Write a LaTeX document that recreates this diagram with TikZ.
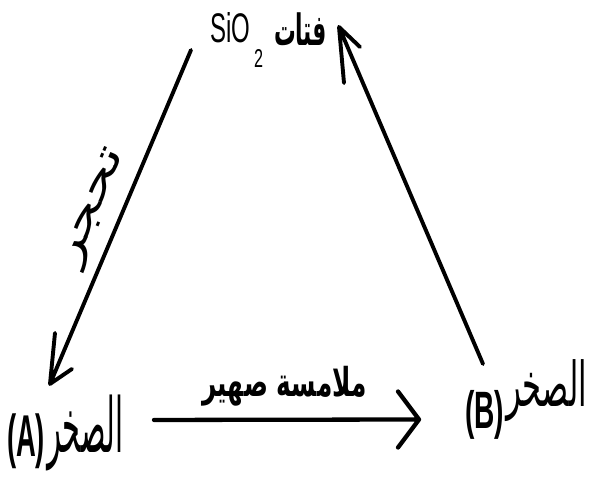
\documentclass[tikz,border=0pt]{standalone}
\usepackage{fontspec}
\usepackage{graphicx}
\usetikzlibrary{calc}
\setmainfont{Liberation Sans}
\newfontfamily\lat{Liberation Sans}
\newfontfamily\ar[Script=Arabic]{DejaVu Sans}
\TeXXeTstate=1
\begin{document}
\begin{tikzpicture}[x=1pt,y=-1pt,
  ln/.style={line width=3.9pt, line cap=round, line join=round},
  lnb/.style={line width=4.3pt, line cap=round, line join=round},
  txt/.style={inner sep=0pt, outer sep=0pt}]
\fill[white] (0,0) rectangle (591,481);
\useasboundingbox (0,0) rectangle (591,481);

% top: SiO2 fragments
\node[txt, anchor=base west] (top) at (210,43)
  {\resizebox{40pt}{30pt}{\lat SiO}\kern4pt\raisebox{-25pt}{\resizebox{9pt}{18pt}{\lat 2}}\kern11pt\raisebox{-3pt}{\resizebox*{53pt}{33pt}{\ar\bfseries\beginR فتات\endR}}};

% rock A
\node[txt, anchor=base west] (A) at (7,469)
  {\raisebox{\depth}{\resizebox*{38pt}{55pt}{\lat\bfseries(A)}}\kern2pt\raisebox{\dimexpr\depth-2pt\relax}{\resizebox*{76pt}{76pt}{\ar\beginR الصخر\endR}}};

% rock B
\node[txt, anchor=base west] (B) at (465,439)
  {\raisebox{\depth}{\resizebox*{39pt}{49pt}{\lat\bfseries(B)}}\kern2pt\raisebox{\dimexpr\depth+17pt\relax}{\resizebox*{81pt}{62pt}{\ar\beginR الصخر\endR}}};

% connector endpoints relative to nodes
\coordinate (s1) at ($(top.south west)+(-19,-18)$);
\coordinate (e1) at ($(A.north west)+(43,-11)$);
\coordinate (s2) at ($(B.north west)+(18,4)$);
\coordinate (e2) at ($(top.north east)+(12,14)$);
\coordinate (s3) at ($(A.east)+(31,-13)$);
\coordinate (e3) at ($(B.west)+(-46,20)$);

% top -> A
\draw[ln] (s1) -- (e1) (e1) -- ++(5,-51) (e1) -- ++(22,-15);
\node[txt, rotate=67] (lab1) at ($(s1)!0.5!(e1)+(-25.5,-8.5)$)
  {\resizebox*{125pt}{30pt}{\ar\beginR تحجر\endR}};

% B -> top
\draw[ln] (s2) -- (e2) (e2) -- ++(5,56) (e2) -- ++(21,20);

% A -> B
\draw[lnb] (s3) -- node[txt, above=13pt, xshift=-2pt] (lab2)
  {\resizebox*{164pt}{40pt}{\ar\bfseries\beginR ملامسة صهير\endR}} (e3)
  (e3) -- ++(-21,-28) (e3) -- ++(-21,28);
\end{tikzpicture}
\end{document}
